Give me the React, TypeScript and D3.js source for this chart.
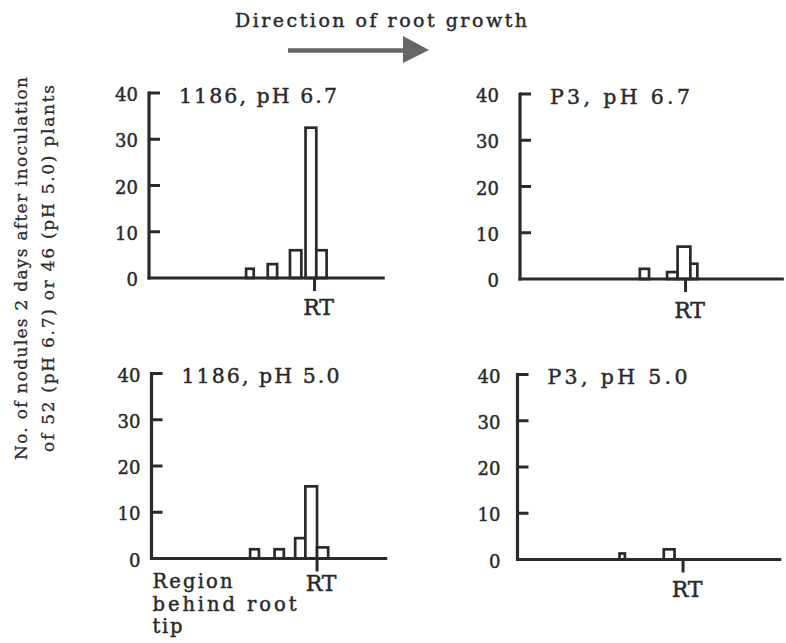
import React from 'react';
import * as d3 from 'd3';

// ---------- data ----------
const yTickValues = [0, 10, 20, 30, 40];
const chartTitle = 'Direction of root growth';
const yLabelLines = [
  'No. of nodules 2 days after inoculation',
  'of 52 (pH 6.7) or 46 (pH 5.0) plants',
];
const tipLabel = 'RT';
const regionLabelLines = ['Region', 'behind root', 'tip'];
const panelTitles = ['1186, pH 6.7', 'P3, pH 6.7', '1186, pH 5.0', 'P3, pH 5.0'];

// bins: distance from root tip (arbitrary units, negative = behind the tip)
const binStart_1186_67 = [-5.85, -4.0, -2.1, -0.77, 0.15];
const binEnd_1186_67 = [-5.2, -3.2, -1.13, 0.15, 1.03];
const nodules_1186_67 = [2, 3, 6, 32.5, 6];

const binStart_P3_67 = [-3.91, -1.58, -0.68, 0.41];
const binEnd_P3_67 = [-3.12, -0.68, 0.41, 1.01];
const nodules_P3_67 = [2.2, 1.5, 7, 3.3];

const binStart_1186_50 = [-5.72, -3.63, -1.87, -1.0, 0];
const binEnd_1186_50 = [-4.97, -2.84, -1.0, 0, 0.95];
const nodules_1186_50 = [2, 2, 4.4, 15.6, 2.4];

const binStart_P3_50 = [-5.43, -1.65];
const binEnd_P3_50 = [-4.97, -0.73];
const nodules_P3_50 = [1.3, 2.2];

// ---------- layout ----------
const W = 786;
const H = 643;
const X_MIN = -14.15;
const PX_PER_UNIT = 11.7;
const PLOT_H = 185;
const INK = '#2a2a2a';
const FONT = "'DejaVu Serif', 'Liberation Serif', serif";
const TEXT_STROKE = 0.45;

const panels = [
  { title: panelTitles[0], starts: binStart_1186_67, ends: binEnd_1186_67, counts: nodules_1186_67, left: 149, y0: 278, xMax: 6.0, labelGap: 11, rtDy: 37, titleW: 158 },
  { title: panelTitles[1], starts: binStart_P3_67, ends: binEnd_P3_67, counts: nodules_P3_67, left: 520, y0: 279, xMax: 8.4, labelGap: 21, rtDy: 39, titleW: 140 },
  { title: panelTitles[2], starts: binStart_1186_50, ends: binEnd_1186_50, counts: nodules_1186_50, left: 151.5, y0: 558.5, xMax: 6.0, labelGap: 11, rtDy: 32, titleW: 158 },
  { title: panelTitles[3], starts: binStart_P3_50, ends: binEnd_P3_50, counts: nodules_P3_50, left: 517.5, y0: 559.5, xMax: 8.4, labelGap: 17, rtDy: 37, titleW: 140 },
];

const textProps = {
  fontFamily: FONT,
  fill: INK,
  stroke: INK,
  strokeWidth: TEXT_STROKE,
};

function Panel({ p }: { p: any }) {
  const x = d3
    .scaleLinear()
    .domain([X_MIN, p.xMax])
    .range([p.left, p.left + (p.xMax - X_MIN) * PX_PER_UNIT]);
  const y = d3.scaleLinear().domain([0, 40]).range([p.y0, p.y0 - PLOT_H]);
  const bars = p.counts.map((c: number, i: number) => ({ x0: p.starts[i], x1: p.ends[i], c }));
  return (
    <g>
      {bars.map((b: any, i: number) => (
        <rect
          key={i}
          x={x(b.x0)}
          y={y(b.c)}
          width={x(b.x1) - x(b.x0)}
          height={y(0) - y(b.c)}
          fill="#fff"
          stroke={INK}
          strokeWidth={2.7}
        />
      ))}
      {/* y axis */}
      <line x1={p.left} x2={p.left} y1={y(0) + 1.5} y2={y(40) - 1.5} stroke={INK} strokeWidth={3.2} />
      {yTickValues.filter((t) => t > 0).map((t) => (
        <line key={t} x1={p.left} x2={p.left + 11} y1={y(t)} y2={y(t)} stroke={INK} strokeWidth={3} />
      ))}
      {yTickValues.map((t) => (
        <text
          key={'l' + t}
          x={p.left - p.labelGap}
          y={y(t) + 1.5}
          textAnchor="end"
          dominantBaseline="central"
          fontSize={18}
          {...textProps}
        >
          {t}
        </text>
      ))}
      {/* baseline */}
      <line x1={p.left - 1.5} x2={x(p.xMax)} y1={y(0)} y2={y(0)} stroke={INK} strokeWidth={3.2} />
      {/* root tip marker */}
      <line x1={x(0)} x2={x(0)} y1={y(0)} y2={y(0) + 13} stroke={INK} strokeWidth={3} />
      <text x={x(0) + 4} y={y(0) + p.rtDy} textAnchor="middle" fontSize={22} {...textProps}>
        {tipLabel}
      </text>
      <text
        x={p.left + 30}
        y={y(40) + 9.5}
        fontSize={20.5}
        textLength={p.titleW}
        lengthAdjust="spacing"
        {...textProps}
      >
        {p.title}
      </text>
    </g>
  );
}

const yLabelWidths = [383, 367];
const regionWidths = [80, 144, 30];

export default function App() {
  return (
    <svg
      width={W}
      height={H}
      viewBox={`0 0 ${W} ${H}`}
      style={{ position: 'absolute', left: 0, top: 0, background: '#fff', display: 'block' }}
    >
      <rect x={0} y={0} width={W} height={H} fill="#fff" />
      {/* direction title and arrow */}
      <text x={235} y={27} fontSize={19} textLength={292} lengthAdjust="spacing" {...textProps}>
        {chartTitle}
      </text>
      <line x1={288} x2={406} y1={50.5} y2={50.5} stroke="#666" strokeWidth={4.5} />
      <path d="M403,36 L429,50 L403,63 Z" fill="#666" />

      {/* y-axis label */}
      {yLabelLines.map((s, i) => (
        <text
          key={i}
          transform={`translate(${27 + i * 26.5},268.5) rotate(-90)`}
          textAnchor="middle"
          fontSize={17}
          textLength={yLabelWidths[i]}
          lengthAdjust="spacing"
          {...textProps}
          strokeWidth={0.3}
        >
          {s}
        </text>
      ))}

      {panels.map((p, i) => (
        <Panel key={i} p={p} />
      ))}

      {regionLabelLines.map((s, i) => (
        <text
          key={i}
          x={152.5}
          y={588 + i * 22.5}
          fontSize={19.5}
          textLength={regionWidths[i]}
          lengthAdjust="spacing"
          {...textProps}
        >
          {s}
        </text>
      ))}
    </svg>
  );
}
